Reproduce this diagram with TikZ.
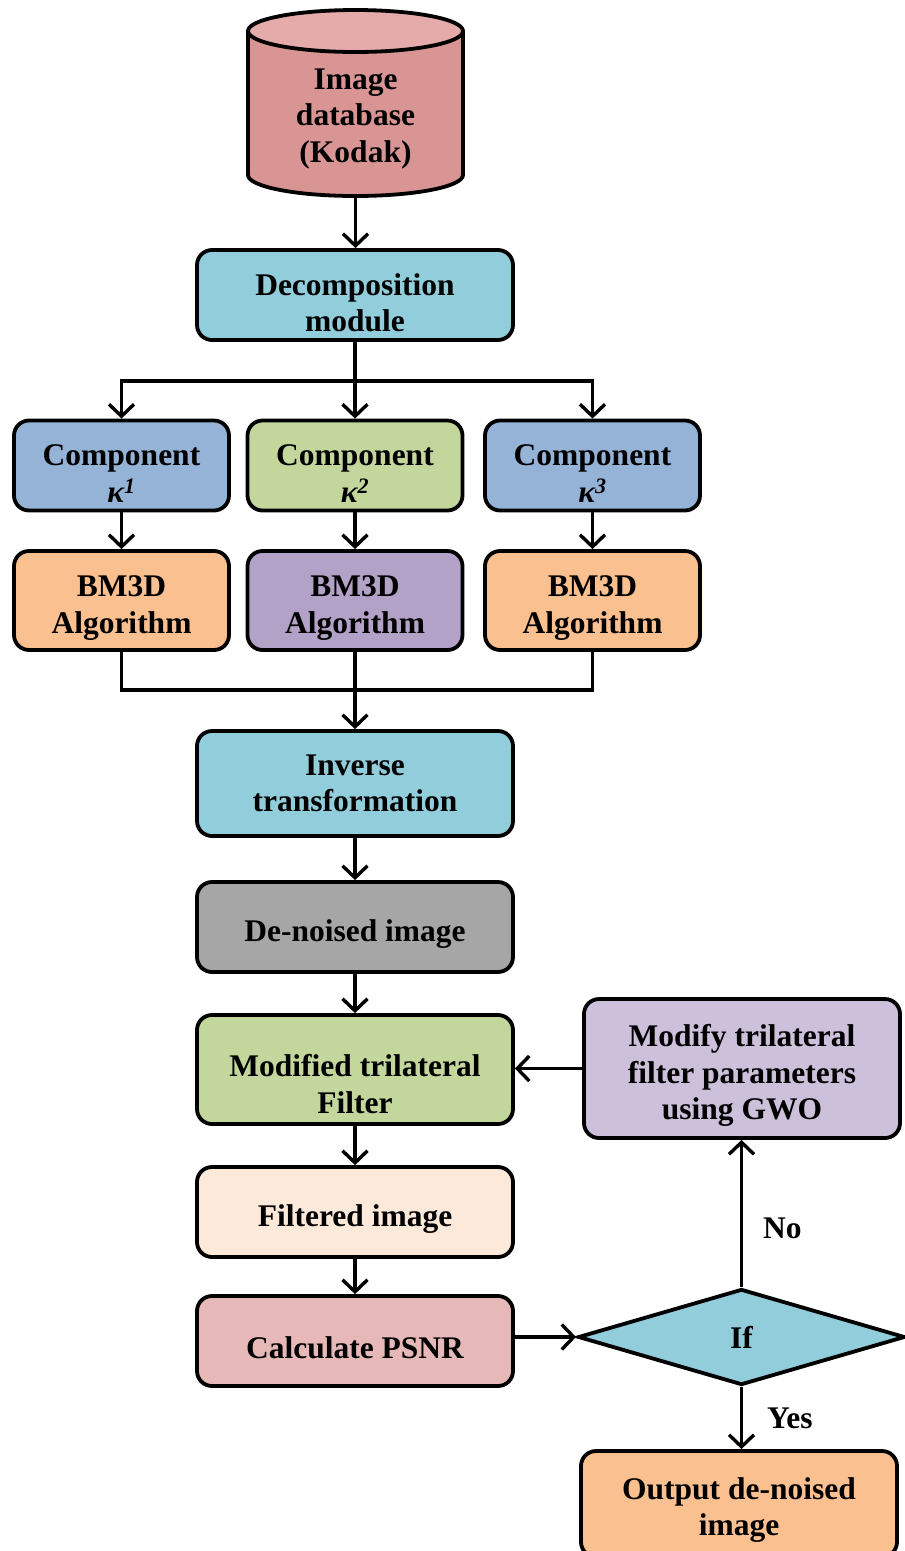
\documentclass[tikz,border=0pt]{standalone}
\usepackage{fontspec}
\setmainfont{Liberation Serif}
\usetikzlibrary{arrows.meta,shapes.geometric}
\definecolor{cyltop}{HTML}{E4ABAA}
\definecolor{cylbody}{HTML}{D99594}
\definecolor{cyanb}{HTML}{92CDDC}
\definecolor{blueb}{HTML}{95B3D7}
\definecolor{greenb}{HTML}{C3D69B}
\definecolor{orangeb}{HTML}{FAC090}
\definecolor{purpleb}{HTML}{B3A2C7}
\definecolor{grayb}{HTML}{A6A6A6}
\definecolor{peachb}{HTML}{FDE9D9}
\definecolor{pinkb}{HTML}{E6B9B8}
\definecolor{lilacb}{HTML}{CCC0DA}
\newcommand\tup[1]{\rule{0pt}{#1pt}}
\tikzset{
  box/.style={draw=black, line width=3.8pt, rounded corners=15pt, align=center, inner sep=0pt,
    font=\fontsize{31.5}{36.5}\selectfont\bfseries, minimum width=316pt, minimum height=90pt},
  smallbox/.style={box, minimum width=215pt},
  arr/.style={line width=3.4pt, -{Straight Barb[length=12pt,width=25pt,line width=3.4pt]}},
  ln/.style={line width=3.4pt},
  lbl/.style={font=\fontsize{31.5}{36.5}\selectfont\bfseries, inner sep=0pt}
}
\begin{document}
\begin{tikzpicture}[x=1pt,y=-1pt]
\useasboundingbox (0,0) rectangle (905,1551);
% cylinder
\fill[cylbody] (248,31) rectangle (463,175);
\fill[cylbody] (355.5,175) ellipse[x radius=107.5, y radius=21];
\begin{scope}
\clip (240,175) rectangle (470,205);
\draw[line width=3.8pt] (355.5,175) ellipse[x radius=107.5, y radius=21];
\end{scope}
\draw[line width=3.8pt] (248,31) -- (248,175) (463,31) -- (463,175);
\draw[line width=3.8pt, fill=cyltop] (355.5,31) ellipse[x radius=107.5, y radius=21];
\node[lbl, align=center] (db) at (355.5,119) {Image\\database\\(Kodak)};
\coordinate (dbbot) at (355.5,196);

\node[box, fill=cyanb] (dec) at (355,295) {\tup{37}Decomposition\\module};
\node[smallbox, fill=blueb] (c1) at (121.5,465.5) {\tup{37}Component\\{\itshape κ\textsuperscript{1}}};
\node[smallbox, fill=greenb] (c2) at (355,465.5) {\tup{37}Component\\{\itshape κ\textsuperscript{2}}};
\node[smallbox, fill=blueb] (c3) at (592.5,465.5) {\tup{37}Component\\{\itshape κ\textsuperscript{3}}};
\node[smallbox, fill=orangeb, minimum height=99pt] (b1) at (121.5,600.5) {\tup{36}BM3D\\Algorithm};
\node[smallbox, fill=purpleb, minimum height=99pt] (b2) at (355,600.5) {\tup{36}BM3D\\Algorithm};
\node[smallbox, fill=orangeb, minimum height=99pt] (b3) at (592.5,600.5) {\tup{36}BM3D\\Algorithm};
\node[box, fill=cyanb, minimum height=105pt] (inv) at (355,783.5) {Inverse\\transformation};
\node[box, fill=grayb] (den) at (355,927) {\tup{36}De-noised image};
\node[box, fill=greenb, minimum height=109pt] (mtf) at (355,1069.5) {\tup{51}Modified trilateral\\Filter};
\node[box, fill=peachb] (fil) at (355,1212) {\tup{36}Filtered image};
\node[box, fill=pinkb] (psnr) at (355,1341) {\tup{36}Calculate PSNR};
\node[box, fill=lilacb, minimum height=139pt] (mod) at (742,1068.5) {\tup{36}Modify trilateral\\filter parameters\\using GWO};
\node[diamond, draw=black, line width=3.8pt, fill=cyanb, inner sep=0pt, minimum width=327pt, minimum height=96pt,
  font=\fontsize{31.5}{36.5}\selectfont\bfseries] (if) at (741.5,1337) {If};
\node[box, fill=orangeb, minimum height=106pt] (out) at (739,1504) {\tup{34}Output de-noised\\image};

% connectors
\draw[arr] (dbbot) -- (dec.north -| dbbot);
\coordinate (split) at (355,381);
\draw[ln] (dec.south) -- (split);
\draw[arr] (split) -| (c1.north);
\draw[arr] (split) -| (c3.north);
\draw[arr] (split) -- (c2.north);
\draw[arr] (c1) -- (b1);
\draw[arr] (c2) -- (b2);
\draw[arr] (c3) -- (b3);
\coordinate (merge) at (355,690);
\draw[ln] (b1.south) |- (merge);
\draw[ln] (b3.south) |- (merge);
\draw[arr] (b2.south) -- (inv.north);
\draw[arr] (inv.south) -- (den.north);
\draw[arr] (den) -- (mtf);
\draw[arr] (mtf) -- (fil);
\draw[arr] (fil) -- (psnr);
\draw[arr] (psnr.east |- if.west) -- (if.west);
\draw[arr] (if.north) -- (mod.south -| if.north) node[lbl, pos=0.4, right=20pt] (no) {No};
\draw[arr] (mod.west) -- (mtf.east |- mod.west);
\draw[arr] (if.south) -- (out.north -| if.south) node[lbl, midway, right=24pt] (yes) {Yes};
\end{tikzpicture}
\end{document}
